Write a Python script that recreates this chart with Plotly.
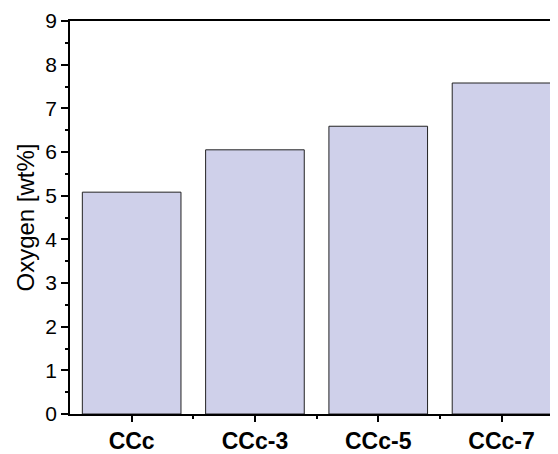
import plotly.graph_objects as go

categories = ["CCc", "CCc-3", "CCc-5", "CCc-7"]
oxygen = [5.08, 6.05, 6.59, 7.58]
y_ticks = [0, 1, 2, 3, 4, 5, 6, 7, 8, 9]

fig = go.Figure()
fig.add_trace(go.Bar(
    x=list(range(len(categories))), y=oxygen, width=0.8,
    marker=dict(color="#cfd0ea", line=dict(color="#222222", width=1)),
))

# page body has an 8px default margin; figure sized to fill the rest
fig.update_layout(
    width=550, height=446,
    margin=dict(l=62, r=0, t=13, b=34),
    paper_bgcolor="white", plot_bgcolor="white",
    showlegend=False,
    font=dict(family="Arial, Liberation Sans, sans-serif", size=21, color="black"),
    bargap=0.2,
)
fig.update_xaxes(
    range=[-0.5, 3.458],
    tickvals=list(range(len(categories))), ticktext=[f"<b>{c}</b>" for c in categories],
    showline=True, linecolor="black", linewidth=1.5, mirror=True,
    ticks="outside", ticklen=6, tickwidth=1.5, tickcolor="black",
    minor=dict(tickvals=[0.5, 1.5, 2.5], ticks="outside", ticklen=3, tickwidth=1.5, tickcolor="black"),
    showgrid=False, zeroline=False,
    tickfont=dict(size=23),
)
fig.update_yaxes(
    range=[0, 9], tickvals=y_ticks,
    showline=True, linecolor="black", linewidth=1.5,
    ticks="outside", ticklen=7, tickwidth=1.5, tickcolor="black",
    minor=dict(dtick=0.5, ticks="outside", ticklen=3, tickwidth=1.5, tickcolor="black", showgrid=False),
    showgrid=False, zeroline=False,
    title=dict(text="Oxygen [wt%]", font=dict(size=24), standoff=4),
    tickfont=dict(size=21),
)

fig.write_html("out.html")
